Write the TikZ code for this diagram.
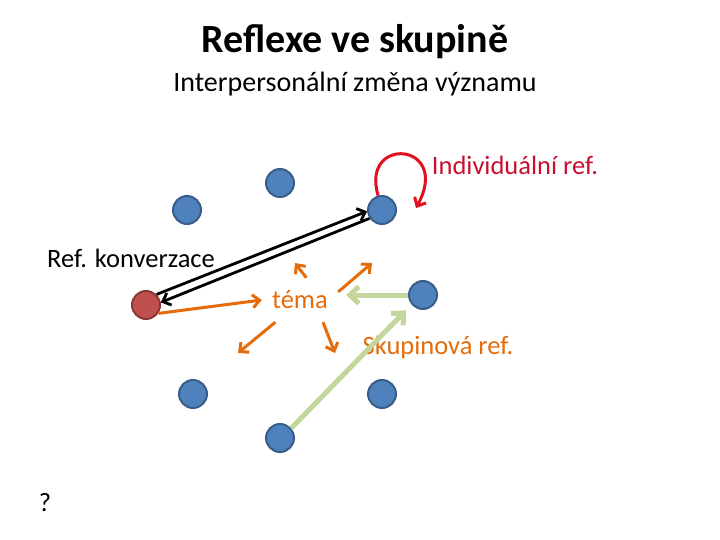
\documentclass[tikz,border=0pt]{standalone}
\usepackage{fontspec}
\setmainfont{Carlito}
\usetikzlibrary{arrows.meta,calc}
\definecolor{ptblue}{HTML}{4F81BD}
\definecolor{ptblueline}{HTML}{385D8A}
\definecolor{ptred}{HTML}{C0504D}
\definecolor{ptredline}{HTML}{8C3836}
\definecolor{themeor}{HTML}{E46C0A}
\definecolor{grpgreen}{HTML}{C3D69B}
\definecolor{indred}{HTML}{E2101E}
\definecolor{indtext}{HTML}{C8102E}

\begin{document}
\begin{tikzpicture}[x=1pt,y=-1pt,>={Straight Barb[length=7pt,width=13pt]},
  pt/.style={circle,draw=ptblueline,fill=ptblue,line width=2pt,minimum size=28pt,inner sep=0pt},
  ptsrc/.style={pt,draw=ptredline,fill=ptred},
  lab/.style={font=\fontsize{26.5}{30}\selectfont},
  conv/.style={->,line width=2.8pt,black},
  self/.style={->,line width=3pt,indred},
  spread/.style={->,line width=3pt,themeor},
  group/.style={->,line width=5pt,grpgreen,>={Straight Barb[length=9pt,width=17pt]}}]
\useasboundingbox (0,0) rectangle (720,540);
% headings
\node[font=\fontsize{40}{46}\selectfont\bfseries] (title) at (355,42) {Reflexe ve skupině};
\node[font=\fontsize{28}{32}\selectfont] (subtitle) at (355,84) {Interpersonální změna významu};
% members of the group
\foreach \n/\x/\y in {m1/187/210,m2/280/183,m3/382/210,m4/423/295,m5/193/394,m6/382/394,m7/280/438}
  \node[pt] (\n) at (\x,\y) {};
\node[ptsrc] (src) at (146,305) {};
% labels
\node[lab] (convlab) at (131,258) {Ref. konverzace};
\node[lab,text=indtext] (indlab) at (515,165) {Individuální ref.};
\node[lab,text=themeor,minimum width=76pt,minimum height=44pt,inner sep=0pt] (tema) at (300,300) {téma};
\node[lab,text=themeor] (grplab) at (438,347) {Skupinová ref.};
\node[lab] (quest) at (45,503) {?};
% conversation between two members
\draw[conv] (src.45) -- (m3.185);
\draw[conv] (m3.214) -- (src.10);
% individual reflection
\coordinate (loopend) at (416,208);
\draw[self] (m3.105) .. controls (360,135) and (452,142) .. (loopend);
% the theme spreads out
\coordinate (t1) at (295,263);
\coordinate (t2) at (372,263);
\coordinate (t3) at (238,353);
\coordinate (t4) at (335,353);
\draw[spread] (src.-34) -- (tema.west);
\foreach \a/\t in {74/t1,12/t2,222/t3,-44/t4} \draw[spread] (tema.\a) -- (\t);
% group reflection
\draw[group,shorten >=8pt] (m4.west) -- (tema.east |- m4.west);
\draw[group,shorten >=8pt] (m7.41) -- (m4.220);
\end{tikzpicture}
\end{document}
